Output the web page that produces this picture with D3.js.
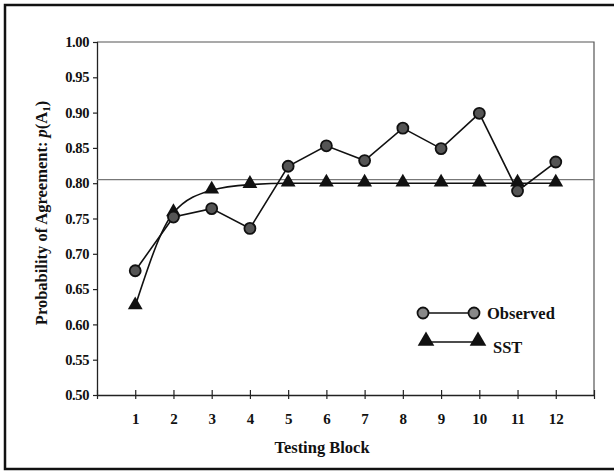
<!DOCTYPE html>
<html><head><meta charset="utf-8">
<script src="https://cdn.jsdelivr.net/npm/d3@7"></script>
<style>body{margin:0;background:#fff}svg{display:block}</style>
</head><body>
<svg id="c" width="614" height="472"></svg>
<script>
const blocks = [1,2,3,4,5,6,7,8,9,10,11,12];
const observed = [0.676,0.752,0.764,0.736,0.824,0.853,0.832,0.878,0.849,0.899,0.789,0.830];
const sst = [0.626,0.758,0.790,0.798,0.800,0.800,0.800,0.800,0.800,0.800,0.800,0.800];
const yTicks = [0.50,0.55,0.60,0.65,0.70,0.75,0.80,0.85,0.90,0.95,1.00];
const refLine = 0.805;
const seriesNames = ["Observed","SST"];

const svg = d3.select("#c");
const L = 97, R = 594, T = 42, B = 395;
const x = d3.scaleLinear().domain([0,13]).range([L,R]);
const y = d3.scaleLinear().domain([0.5,1.0]).range([B,T]);
const font = "'Liberation Serif','Times New Roman',serif";

// outer frame
svg.append("rect").attr("x",5).attr("y",5).attr("width",612).attr("height",464)
  .attr("fill","none").attr("stroke","#111").attr("stroke-width",2.5);

// plot frame top/right
svg.append("path").attr("d",`M${L},${T}H${R}V${B}`).attr("fill","none")
  .attr("stroke","#555").attr("stroke-width",1.2);

// y axis
const yAxis = d3.axisLeft(y).tickValues(yTicks).tickFormat(d3.format(".2f")).tickSize(4).tickSizeOuter(0);
const gy = svg.append("g").attr("transform",`translate(${L},0)`).call(yAxis);
gy.select(".domain").attr("stroke","#222").attr("stroke-width",1.3);
gy.selectAll(".tick line").attr("stroke","#222").attr("stroke-width",1.2).attr("x2",-4).attr("x1",1);
gy.selectAll(".tick text").attr("font-family",font).attr("font-weight","bold").attr("font-size",14.5)
  .attr("fill","#111").attr("x",-8).attr("letter-spacing","-0.4");

// x axis
const xAxis = d3.axisBottom(x).tickValues(d3.range(0,14)).tickFormat(d=> (d>=1&&d<=12)?d:"").tickSize(0).tickPadding(18);
const gx = svg.append("g").attr("transform",`translate(0,${B})`).call(xAxis);
gx.select(".domain").attr("stroke","#222").attr("stroke-width",1.3);
gx.selectAll(".tick line").attr("stroke","#222").attr("stroke-width",1.2).attr("y1",-5).attr("y2",4);
gx.selectAll(".tick text").attr("font-family",font).attr("font-weight","bold").attr("font-size",15).attr("fill","#111");

// axis titles
svg.append("text").attr("x",322).attr("y",453).attr("text-anchor","middle")
  .attr("font-family",font).attr("font-weight","bold").attr("font-size",16.5).attr("fill","#111")
  .text("Testing Block");
const yt = svg.append("text").attr("transform","translate(47,213) rotate(-90)").attr("text-anchor","middle")
  .attr("font-family",font).attr("font-weight","bold").attr("font-size",16.5).attr("fill","#111");
yt.append("tspan").text("Probability of Agreement: ");
yt.append("tspan").attr("font-style","italic").text("p");
yt.append("tspan").text("(A");
yt.append("tspan").attr("font-size",11).attr("dy",3).text("1");
yt.append("tspan").attr("dy",-3).text(")");

// reference line
svg.append("line").attr("x1",L).attr("x2",R).attr("y1",y(refLine)).attr("y2",y(refLine))
  .attr("stroke","#777").attr("stroke-width",1.3);

// SST smooth line
const sstLine = d3.line().x((d,i)=>x(blocks[i])).y(d=>y(d)).curve(d3.curveMonotoneX);
svg.append("path").datum(sst).attr("d",sstLine).attr("fill","none").attr("stroke","#111").attr("stroke-width",1.6);
const tri = d3.symbol().type(d3.symbolTriangle).size(95);
svg.selectAll(".tri").data(sst).join("path").attr("class","tri")
  .attr("transform",(d,i)=>`translate(${x(blocks[i])},${y(d)-1})`).attr("d",tri).attr("fill","#111");

// observed
const obsLine = d3.line().x((d,i)=>x(blocks[i])).y(d=>y(d));
svg.append("path").datum(observed).attr("d",obsLine).attr("fill","none").attr("stroke","#111").attr("stroke-width",1.6);
svg.selectAll(".obs").data(observed).join("circle").attr("class","obs")
  .attr("cx",(d,i)=>x(blocks[i])).attr("cy",d=>y(d)).attr("r",5.5)
  .attr("fill","#555").attr("stroke","#111").attr("stroke-width",1.8);

// legend
const lg = svg.append("g");
lg.append("line").attr("x1",423).attr("x2",474).attr("y1",313).attr("y2",313).attr("stroke","#111").attr("stroke-width",1.3);
[423,474].forEach(cx=>lg.append("circle").attr("cx",cx).attr("cy",313).attr("r",5.5)
  .attr("fill","#888").attr("stroke","#111").attr("stroke-width",1.8));
lg.append("text").attr("x",487).attr("y",319).attr("font-family",font).attr("font-weight","bold")
  .attr("font-size",16.5).attr("fill","#111").text(seriesNames[0]);
lg.append("line").attr("x1",426).attr("x2",478).attr("y1",342).attr("y2",342).attr("stroke","#111").attr("stroke-width",1.3);
[426,478].forEach(cx=>lg.append("path").attr("transform",`translate(${cx},341)`).attr("d",d3.symbol().type(d3.symbolTriangle).size(120)).attr("fill","#111"));
lg.append("text").attr("x",493).attr("y",353).attr("font-family",font).attr("font-weight","bold")
  .attr("font-size",16.5).attr("fill","#111").text(seriesNames[1]);
</script>
</body></html>
